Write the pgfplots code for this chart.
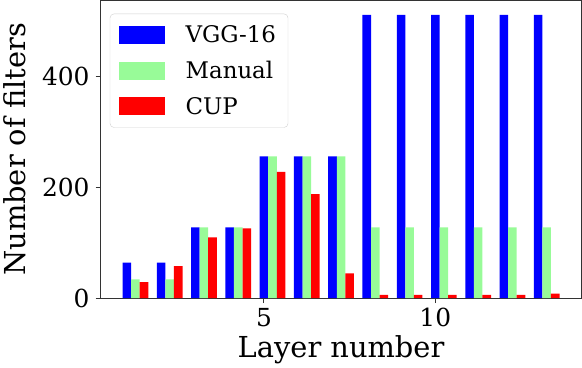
\documentclass[border=0pt]{standalone}
\usepackage{fontspec}
\setmainfont{DejaVu Serif}
\usepackage{pgfplots}
\usepackage{pgfplotstable}
\pgfplotsset{compat=1.18}
\definecolor{vggblue}{RGB}{0,0,255}
\definecolor{manualgreen}{RGB}{152,251,152}
\definecolor{cupred}{RGB}{255,0,0}
\definecolor{spine}{RGB}{51,51,51}

\pgfplotstableread{
layer vgg manual cup
1  64  34  29
2  64  34  58
3  128 128 110
4  128 128 126
5  256 256 228
6  256 256 188
7  256 256 45
8  512 128 6
9  512 128 6
10 512 128 6
11 512 128 6
12 512 128 6
13 512 128 8
}\filters

\begin{document}
\begin{tikzpicture}
\begin{axis}[
  scale only axis,
  width=483pt, height=299pt,
  xmin=0.2375, xmax=14.2625,
  ymin=0, ymax=537.6,
  xtick={5,10}, ytick={0,200,400},
  tick align=outside,
  major tick length=5pt,
  tick style={spine, line width=1pt},
  xtick pos=bottom, ytick pos=left,
  axis line style={spine, line width=1.2pt},
  ticklabel style={font=\fontsize{25}{30}\selectfont, inner sep=6pt},
  xticklabel style={yshift=1pt},
  /pgf/number format/assume math mode=true,
  xlabel={Layer number},
  ylabel={Number of filters},
  label style={font=\fontsize{29}{34}\selectfont},
  xlabel style={at={(axis description cs:0.5,-0.2)}, anchor=base},
  ylabel style={at={(axis description cs:-0.157,0.5)}, anchor=base},
  ybar, bar width=0.25, bar shift=0pt,
  legend cell align=left,
  legend style={at={(axis description cs:0.019,0.956)}, anchor=north west,
    draw=black!18, fill=white, rounded corners=4pt,
    font=\fontsize{23}{28}\selectfont,
    row sep=13pt, inner xsep=9pt, inner ysep=10pt,
    nodes={inner xsep=3pt, inner ysep=2pt}},
  legend image code/.code={%
    \pgfsetcornersarced{\pgfpointorigin}%
    \fill[#1] (0pt,-9pt) rectangle (46pt,9pt);
    \path[draw=none, fill=none] (0pt,0pt) rectangle (64pt,0.1pt);},
]
\addplot[fill=vggblue, draw=none] table[x=layer, y=vgg] {\filters};
\addplot[fill=manualgreen, draw=none] table[x expr=\thisrow{layer}+0.25, y=manual] {\filters};
\addplot[fill=cupred, draw=none] table[x expr=\thisrow{layer}+0.5, y=cup] {\filters};
\legend{VGG-16\hspace{3pt}, Manual, CUP}
\end{axis}
\end{tikzpicture}
\end{document}
